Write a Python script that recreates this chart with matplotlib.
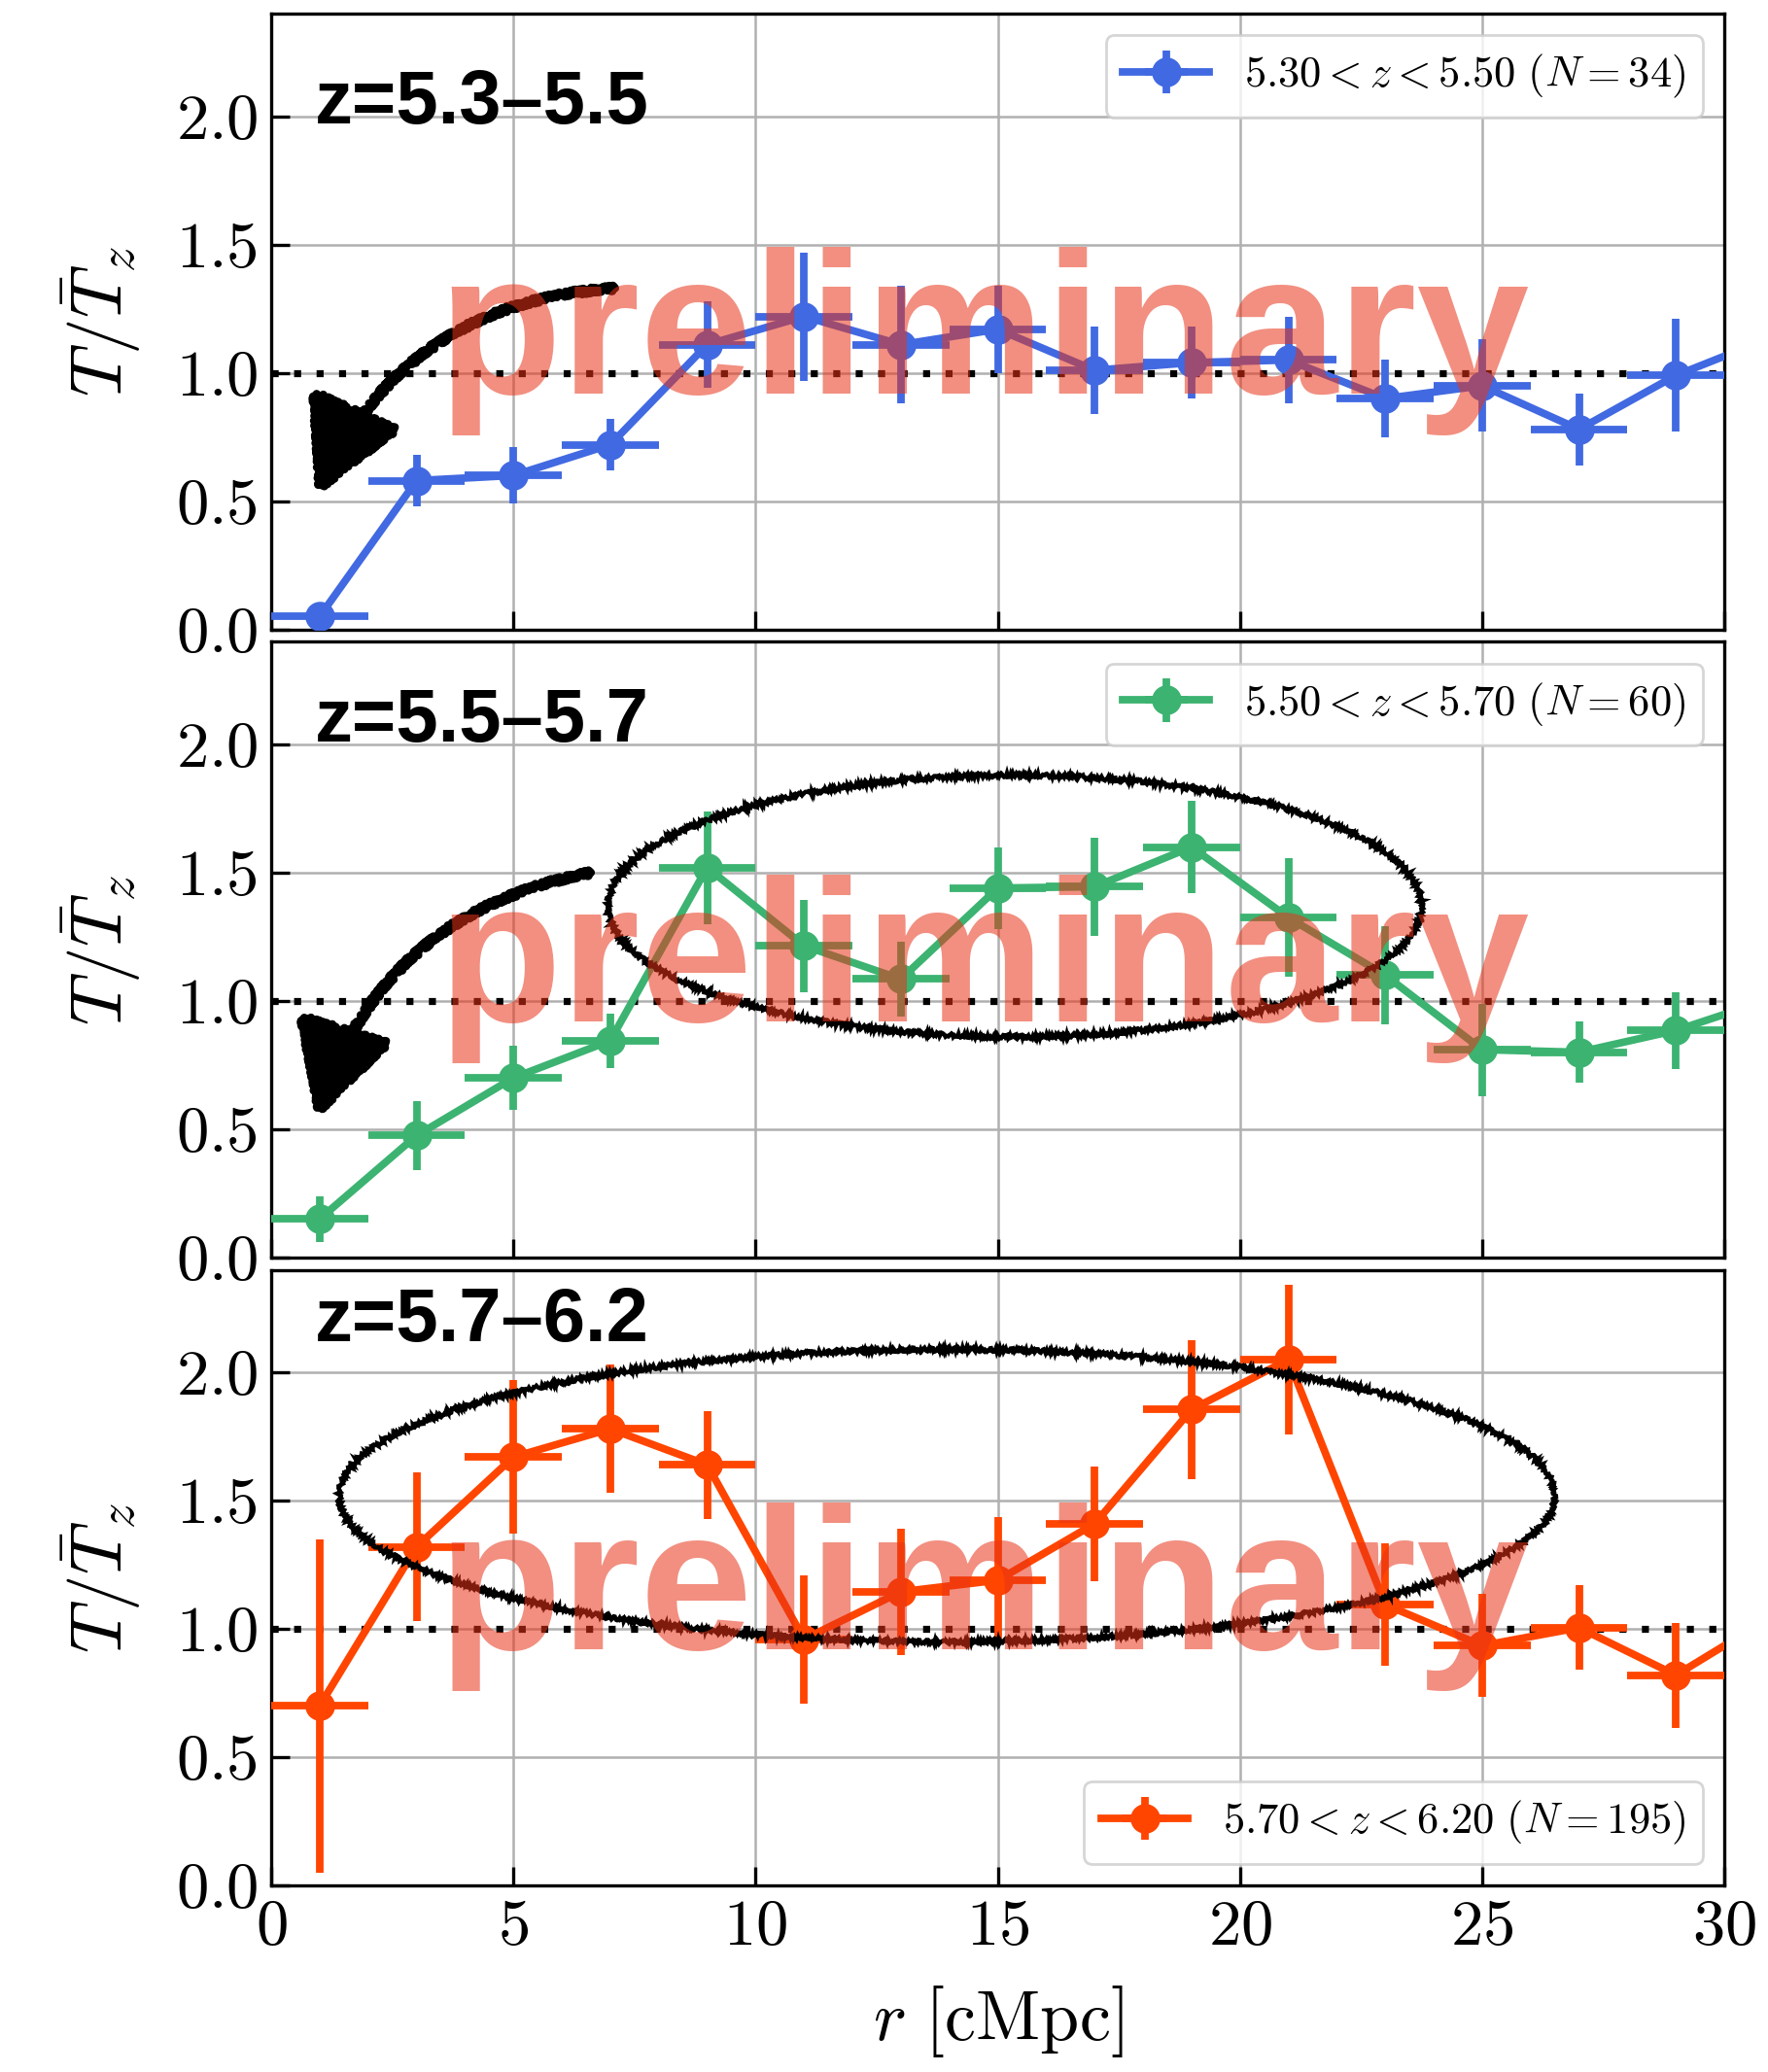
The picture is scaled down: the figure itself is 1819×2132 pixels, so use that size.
import numpy as np
import matplotlib.pyplot as plt
from matplotlib.patches import Ellipse, FancyArrowPatch

plt.rcParams['font.family'] = 'serif'
plt.rcParams['font.serif'] = ['cmr10']
plt.rcParams['mathtext.fontset'] = 'cm'
plt.rcParams['axes.formatter.use_mathtext'] = True

# radial bin centres [cMpc], each bin is 2 cMpc wide
r_bins = [1, 3, 5, 7, 9, 11, 13, 15, 17, 19, 21, 23, 25, 27, 29, 31]
r_halfwidth = [1.0] * len(r_bins)

# 5.30 < z < 5.50
t_low = [0.05, 0.58, 0.60, 0.72, 1.11, 1.22, 1.11, 1.17, 1.01, 1.04, 1.05, 0.90, 0.95, 0.78, 0.99, 1.14]
terr_low = [0.04, 0.10, 0.11, 0.10, 0.17, 0.25, 0.23, 0.17, 0.17, 0.14, 0.17, 0.15, 0.18, 0.14, 0.22, 0.20]

# 5.50 < z < 5.70
t_mid = [0.15, 0.475, 0.70, 0.845, 1.52, 1.215, 1.085, 1.44, 1.445, 1.60, 1.325, 1.10, 0.81, 0.80, 0.885, 1.01]
terr_mid = [0.09, 0.135, 0.125, 0.105, 0.22, 0.18, 0.145, 0.16, 0.19, 0.18, 0.23, 0.19, 0.18, 0.12, 0.15, 0.15]

# 5.70 < z < 6.20
t_high = [0.70, 1.32, 1.67, 1.78, 1.64, 0.96, 1.145, 1.19, 1.41, 1.855, 2.05, 1.095, 0.935, 1.005, 0.82, 1.05]
terr_high = [0.65, 0.29, 0.30, 0.25, 0.21, 0.25, 0.245, 0.245, 0.225, 0.27, 0.29, 0.24, 0.20, 0.165, 0.205, 0.20]

panel_titles = ['z=5.3\u20135.5', 'z=5.5\u20135.7', 'z=5.7\u20136.2']
title_y = [2.05, 2.09, 2.20]
legend_labels = [r'$5.30 < z < 5.50\ (N=34)$',
                 r'$5.50 < z < 5.70\ (N=60)$',
                 r'$5.70 < z < 6.20\ (N=195)$']
legend_locs = ['upper right', 'upper right', 'lower right']
colours = ['royalblue', 'mediumseagreen', 'orangered']
values = [t_low, t_mid, t_high]
errors = [terr_low, terr_mid, terr_high]

# hand-drawn highlights: (centre x, centre y, width, height) in data units
ellipses = [None, (15.35, 1.37, 16.8, 1.02), (13.95, 1.52, 25.1, 1.14)]
# arrows: (start, tip)
arrows = [((7.1, 1.33), (0.95, 0.53)), ((6.6, 1.50), (0.95, 0.55)), None]

fig, axes = plt.subplots(3, 1, sharex=True, figsize=(9.095, 10.66), dpi=200)
fig.subplots_adjust(left=0.1534, right=0.9753, top=0.9934, bottom=0.090, hspace=0.02)

for i, ax in enumerate(axes):
    ax.errorbar(r_bins, values[i], yerr=errors[i], xerr=r_halfwidth, fmt='-o',
                color=colours[i], ms=10, lw=2.8, elinewidth=2.8, capsize=0,
                label=legend_labels[i], zorder=3)
    ax.axhline(1.0, color='k', lw=2.6, linestyle=(0, (1, 2.2)), zorder=2)

    ax.set_xlim(0, 30)
    ax.set_ylim(0, 2.4)
    ax.set_yticks([0.0, 0.5, 1.0, 1.5, 2.0])
    ax.set_xticks([0, 5, 10, 15, 20, 25, 30])
    ax.grid(True, color='#b0b0b0', lw=0.9)
    ax.set_axisbelow(True)
    ax.tick_params(direction='in', length=7, width=1.2, labelsize=24, pad=5)
    for sp in ax.spines.values():
        sp.set_linewidth(1.2)
    ax.set_ylabel(r'$T/\bar{T}_z$', fontsize=27, labelpad=12)

    ax.text(0.9, title_y[i], panel_titles[i], fontsize=28, fontweight='bold',
            family='Liberation Sans', va='center', ha='left', zorder=6)

    leg = ax.legend(loc=legend_locs[i], fontsize=16, handlelength=2.0)
    leg.set_zorder(7)

    if ellipses[i] is not None:
        cx, cy, w, h = ellipses[i]
        ell = Ellipse((cx, cy), w, h, fill=False, ec='k', lw=1.6, zorder=4)
        ell.set_sketch_params(scale=2.0, length=3, randomness=3)
        ax.add_patch(ell)

    if arrows[i] is not None:
        start, tip = arrows[i]
        arr = FancyArrowPatch(start, tip, connectionstyle='arc3,rad=0.3',
                              arrowstyle='-|>,head_length=1.5,head_width=0.8',
                              mutation_scale=20, lw=3.0, color='k',
                              shrinkA=0, shrinkB=0, zorder=4)
        arr.set_sketch_params(scale=3, length=4, randomness=3)
        ax.add_patch(arr)

    # watermark on top of everything
    ax.text(14.7, 0.92, 'preliminary', fontsize=75, fontweight='bold',
            family='Liberation Sans', color=(0.91, 0.20, 0.094), alpha=0.55,
            ha='center', va='baseline', zorder=5)

axes[-1].set_xlabel(r'$r\ [\mathrm{cMpc}]$', fontsize=26, labelpad=10)

fig.savefig('out.png', dpi=200)
